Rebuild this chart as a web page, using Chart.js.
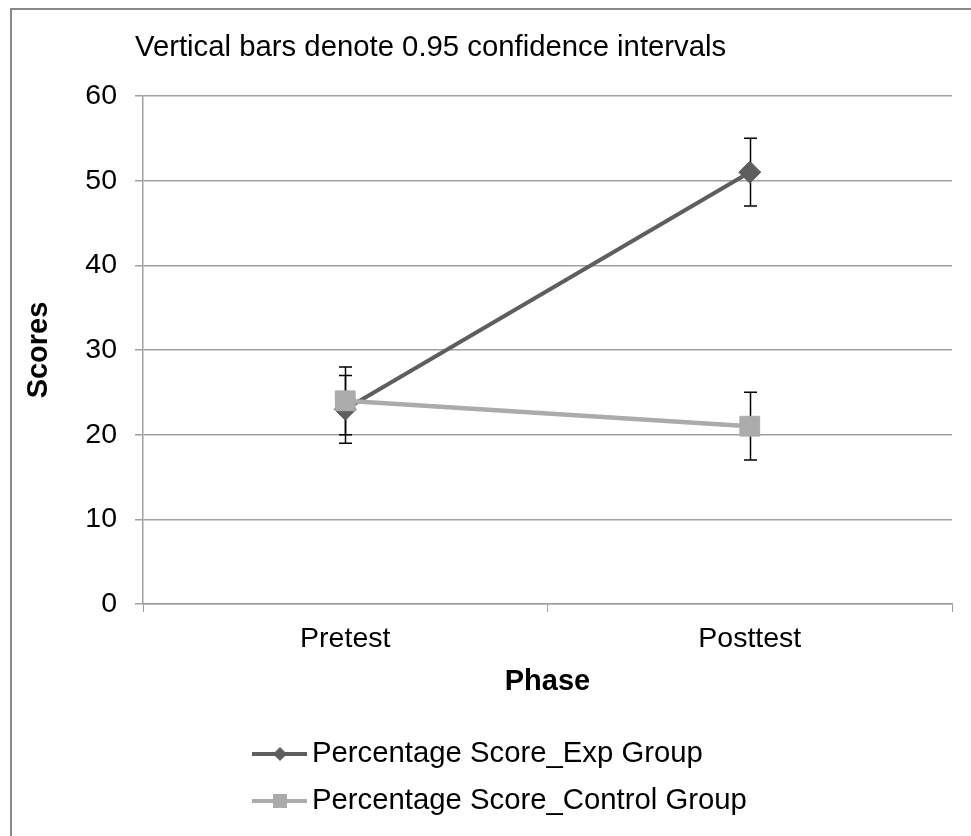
<!DOCTYPE html>
<html>
<head>
<meta charset="utf-8">
<script src="https://cdn.jsdelivr.net/npm/chart.js@4.4.1/dist/chart.umd.min.js"></script>
<style>
  html, body { margin: 0; padding: 0; background: #fff; }
  #wrap { width: 971px; height: 836px; position: relative; }
</style>
</head>
<body>
<div id="wrap"><canvas id="scores-chart" width="971" height="836"></canvas></div>
<script>
// Phase means with 0.95 confidence limits
const phases = ['Pretest', 'Posttest'];
const expScores = [23, 51];
const expLow = [19, 47];
const expHigh = [27, 55];
const controlScores = [24, 21];
const controlLow = [20, 17];
const controlHigh = [28, 25];
const yTicks = [0, 10, 20, 30, 40, 50, 60];

const FONT = "'Liberation Sans', Arial, sans-serif";
const EXP_COLOR = '#5e5e5e';
const CTRL_COLOR = '#ababab';

// Whiskers for the confidence intervals, drawn under the markers
const errorBars = {
    id: 'errorBars',
    beforeDatasetsDraw(chart) {
        const ctx = chart.ctx;
        const yScale = chart.scales.y;
        ctx.save();
        ctx.strokeStyle = '#000';
        ctx.lineWidth = 1.5;
        chart.data.datasets.forEach((ds, i) => {
            const meta = chart.getDatasetMeta(i);
            meta.data.forEach((pt, j) => {
                const x = Math.round(pt.x) + 0.5;
                const top = yScale.getPixelForValue(ds.high[j]);
                const bottom = yScale.getPixelForValue(ds.low[j]);
                ctx.beginPath();
                ctx.moveTo(x, top);
                ctx.lineTo(x, bottom);
                ctx.moveTo(x - 6.5, top);
                ctx.lineTo(x + 6.5, top);
                ctx.moveTo(x - 6.5, bottom);
                ctx.lineTo(x + 6.5, bottom);
                ctx.stroke();
            });
        });
        ctx.restore();
    }
};

// Frame, caption and the line+marker legend
const decorations = {
    id: 'decorations',
    afterDraw(chart) {
        const ctx = chart.ctx;
        ctx.save();
        ctx.strokeStyle = '#8a8a8a';
        ctx.lineWidth = 2;
        ctx.beginPath();
        ctx.moveTo(11, 840);
        ctx.lineTo(11, 9);
        ctx.lineTo(975, 9);
        ctx.stroke();

        ctx.fillStyle = '#000';
        ctx.font = '29.3px ' + FONT;
        ctx.textBaseline = 'middle';
        ctx.textAlign = 'left';
        ctx.fillText('Vertical bars denote 0.95 confidence intervals', 135, 48);

        const rows = [754, 801];
        chart.data.datasets.forEach((ds, i) => {
            const y = rows[i];
            ctx.strokeStyle = ds.borderColor;
            ctx.lineWidth = 4;
            ctx.beginPath();
            ctx.moveTo(252, y);
            ctx.lineTo(307, y);
            ctx.stroke();
            ctx.fillStyle = ds.borderColor;
            ctx.beginPath();
            if (ds.pointStyle === 'rectRot') {
                ctx.moveTo(280, y - 7);
                ctx.lineTo(287, y);
                ctx.lineTo(280, y + 7);
                ctx.lineTo(273, y);
            } else {
                ctx.rect(273, y - 7, 14, 14);
            }
            ctx.fill();
            ctx.fillStyle = '#000';
            ctx.font = '29.3px ' + FONT;
            ctx.fillText(ds.label, 312, y);
        });
        ctx.restore();
    }
};

new Chart(document.getElementById('scores-chart'), {
    type: 'line',
    data: {
        labels: phases,
        datasets: [
            {
                label: 'Percentage Score_Exp Group',
                data: expScores,
                low: expLow,
                high: expHigh,
                borderColor: EXP_COLOR,
                backgroundColor: EXP_COLOR,
                borderWidth: 4,
                pointStyle: 'rectRot',
                pointRadius: 11,
                pointBorderWidth: 1,
                order: 1
            },
            {
                label: 'Percentage Score_Control Group',
                data: controlScores,
                low: controlLow,
                high: controlHigh,
                borderColor: CTRL_COLOR,
                backgroundColor: CTRL_COLOR,
                borderWidth: 4.5,
                pointStyle: 'rect',
                pointRadius: 14,
                pointBorderWidth: 1,
                order: 0
            }
        ]
    },
    options: {
        responsive: false,
        animation: false,
        layout: {
            padding: { top: 96, right: 19, bottom: 136, left: 0 }
        },
        plugins: {
            legend: { display: false },
            tooltip: { enabled: false }
        },
        scales: {
            x: {
                offset: true,
                afterFit(scale) { scale.height = 96; },
                grid: {
                    offset: true,
                    drawOnChartArea: false,
                    color: '#a0a0a0',
                    tickLength: 8
                },
                border: { color: '#a0a0a0', width: 1.5 },
                ticks: {
                    color: '#000',
                    padding: 10,
                    font: { family: FONT, size: 28.5 }
                },
                title: {
                    display: true,
                    text: 'Phase',
                    color: '#000',
                    padding: { top: 0, bottom: 1 },
                    font: { family: FONT, size: 29, weight: 'bold' }
                }
            },
            y: {
                min: 0,
                max: 60,
                afterFit(scale) { scale.width = 143; },
                afterBuildTicks(scale) {
                    scale.ticks = yTicks.map(v => ({ value: v }));
                },
                grid: {
                    color: '#a0a0a0',
                    lineWidth: 1.5,
                    tickLength: 8
                },
                border: { color: '#a0a0a0', width: 1.5 },
                ticks: {
                    color: '#000',
                    padding: 18,
                    font: { family: FONT, size: 28.5 }
                },
                title: {
                    display: true,
                    text: 'Scores',
                    color: '#000',
                    padding: { top: 22, bottom: 0 },
                    font: { family: FONT, size: 29, weight: 'bold' }
                }
            }
        }
    },
    plugins: [errorBars, decorations]
});
</script>
</body>
</html>
